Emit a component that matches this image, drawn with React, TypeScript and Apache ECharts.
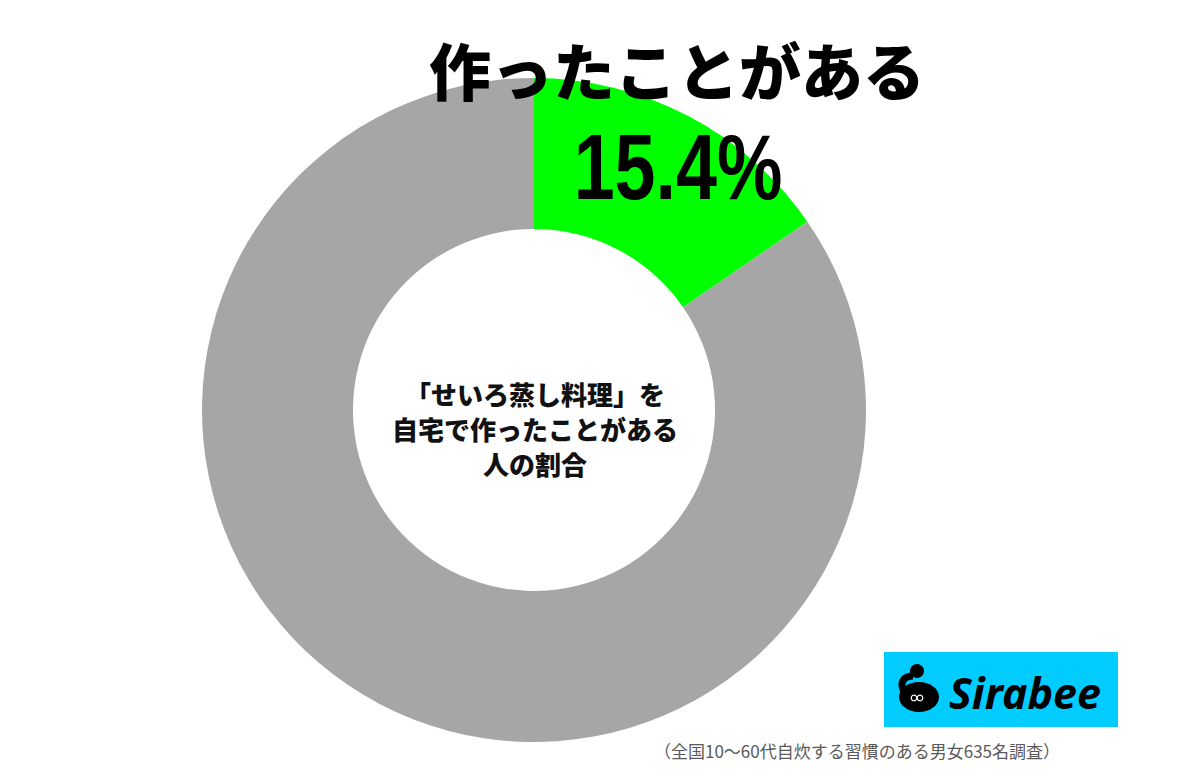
import React, { useEffect, useRef } from "react";
import * as echarts from "echarts";

const categories = ["作ったことがある", "作ったことがない"];
const values = [15.4, 84.6];
const colors = ["#00FF00", "#A6A6A6"];
const titleText = "作ったことがある";
const valueText = "15.4%";
const centerLines = ["「せいろ蒸し料理」を", "自宅で作ったことがある", "人の割合"];
const footnote = "（全国10〜60代自炊する習慣のある男女635名調査）";
const logoText = "Sirabee";

export default function App() {
  const ref = useRef<HTMLDivElement>(null);
  useEffect(() => {
    document.body.style.margin = "0";
    const chart = echarts.init(ref.current!, null, { renderer: "svg" });
    chart.setOption({
      animation: false,
      backgroundColor: "#FFFFFF",
      series: [
        {
          type: "pie",
          center: [534, 410],
          radius: [181, 332],
          startAngle: 90,
          clockwise: true,
          label: { show: false },
          labelLine: { show: false },
          emphasis: { disabled: true },
          silent: true,
          itemStyle: { borderWidth: 0 },
          data: categories.map((c, i) => ({
            name: c,
            value: values[i],
            itemStyle: { color: colors[i] },
          })),
        },
      ],
      graphic: [
        {
          type: "text",
          x: 677,
          y: 69,
          style: {
            text: titleText,
            font: "900 62px 'Noto Sans CJK JP'",
            fill: "#000",
            align: "center",
            verticalAlign: "middle",
          },
          z: 10,
        },
        {
          type: "text",
          x: 678,
          y: 168,
          scaleX: 0.8,
          style: {
            text: valueText,
            font: "bold 92px 'Liberation Sans', Arial",
            fill: "#000",
            align: "center",
            verticalAlign: "middle",
          },
          z: 10,
        },
        ...centerLines.map((t, i) => ({
          type: "text",
          x: 535,
          y: 393 + i * 35,
          style: {
            text: t,
            font: "900 26px 'Noto Sans CJK JP'",
            fill: "#111",
            align: "center",
            verticalAlign: "middle",
          },
          z: 10,
        })),
        {
          type: "rect",
          shape: { x: 884, y: 652, width: 234, height: 75 },
          style: { fill: "#00CCFF" },
          z: 5,
        },
        {
          type: "ellipse",
          shape: { cx: 919, cy: 697, rx: 20, ry: 15 },
          style: { fill: "#000" },
          z: 6,
        },
        {
          type: "bezierCurve",
          shape: { x1: 904, y1: 692, cpx1: 899, cpy1: 682, x2: 913, y2: 676, cpx2: 904, cpy2: 676 },
          style: { stroke: "#000", lineWidth: 7, fill: "none" },
          z: 6,
        },
        {
          type: "circle",
          shape: { cx: 917, cy: 671, r: 7 },
          style: { fill: "#000" },
          z: 6,
        },
        {
          type: "circle",
          shape: { cx: 914, cy: 698, r: 2.8 },
          style: { fill: "#000", stroke: "#fff", lineWidth: 1.2 },
          z: 7,
        },
        {
          type: "circle",
          shape: { cx: 920, cy: 698, r: 2.8 },
          style: { fill: "#000", stroke: "#fff", lineWidth: 1.2 },
          z: 7,
        },
        {
          type: "text",
          x: 1025,
          y: 692,
          style: {
            text: logoText,
            font: "italic bold 43px 'Noto Sans', 'DejaVu Sans'",
            fill: "#000",
            align: "center",
            verticalAlign: "middle",
          },
          z: 7,
        },
        {
          type: "text",
          x: 857,
          y: 750,
          style: {
            text: footnote,
            font: "normal 17px 'Noto Sans CJK JP'",
            fill: "#595959",
            align: "center",
            verticalAlign: "middle",
          },
          z: 10,
        },
      ],
    });
    return () => chart.dispose();
  }, []);
  return <div ref={ref} style={{ width: 1200, height: 780 }} />;
}
